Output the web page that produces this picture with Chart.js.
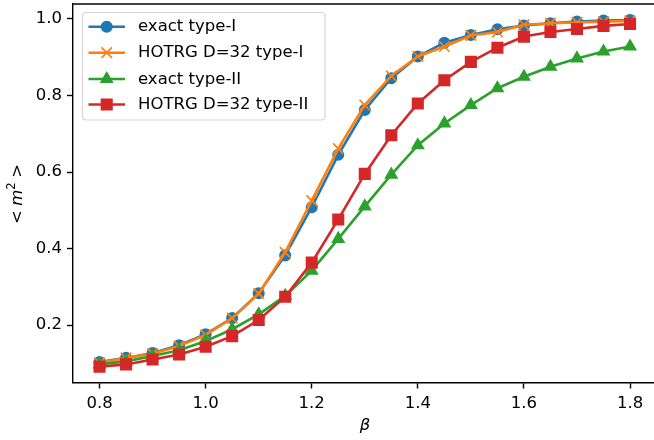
<!DOCTYPE html>
<html>
<head>
<meta charset="utf-8">
<script src="https://cdn.jsdelivr.net/npm/chart.js@4/dist/chart.umd.min.js"></script>
<style>
html,body{margin:0;padding:0;background:#fff;overflow:hidden;}
#c{display:block;}
</style>
</head>
<body>
<canvas id="c" width="654" height="440"></canvas>
<script>
// ---- data ----
const beta = [0.80,0.85,0.90,0.95,1.00,1.05,1.10,1.15,1.20,1.25,1.30,1.35,1.40,1.45,1.50,1.55,1.60,1.65,1.70,1.75,1.80];
const exactTypeI  = [0.103,0.114,0.127,0.147,0.176,0.218,0.283,0.382,0.508,0.645,0.762,0.845,0.902,0.938,0.958,0.973,0.983,0.989,0.993,0.996,0.997];
const hotrgTypeI  = [0.101,0.114,0.125,0.145,0.174,0.218,0.282,0.390,0.525,0.661,0.775,0.851,0.902,0.928,0.957,0.966,0.985,0.989,0.991,0.993,0.995];
const exactTypeII = [0.097,0.105,0.119,0.134,0.158,0.189,0.228,0.276,0.342,0.425,0.510,0.593,0.670,0.727,0.775,0.819,0.849,0.875,0.897,0.915,0.928];
const hotrgTypeII = [0.091,0.097,0.110,0.123,0.143,0.171,0.213,0.274,0.363,0.476,0.595,0.696,0.779,0.840,0.888,0.925,0.954,0.966,0.974,0.982,0.987];
const seriesLabels = ['exact type-I','HOTRG D=32 type-I','exact type-II','HOTRG D=32 type-II'];
const xTicks = [0.8,1.0,1.2,1.4,1.6,1.8];
const yTicks = [0.2,0.4,0.6,0.8,1.0];
const xTitle = 'β';
const yTitleParts = ['<', 'm', '2', '>'];

const FONT = "'DejaVu Sans', sans-serif";
const FS = 16.5;
const colors = ['#1f77b4','#ff7f0e','#2ca02c','#d62728'];

function pts(ys){ return beta.map((b,i)=>({x:b, y:ys[i]})); }

function ds(label, ys, color, style, radius, order){
  return {
    label, data: pts(ys), borderColor: color, backgroundColor: color,
    pointBackgroundColor: color, pointBorderColor: color,
    borderWidth: 2.6, pointStyle: style, pointRadius: radius, pointHoverRadius: radius,
    pointBorderWidth: 1.7, tension: 0, fill: false, order
  };
}

const datasets = [
  ds(seriesLabels[0], exactTypeI,  colors[0], 'circle',   5.2, 3),
  ds(seriesLabels[1], hotrgTypeI,  colors[1], 'crossRot', 7.4, 2),
  ds(seriesLabels[2], exactTypeII, colors[2], 'triangle', 6.4, 1),
  ds(seriesLabels[3], hotrgTypeII, colors[3], 'rect',     7.35, 0)
];

function noPad(s){ s.paddingLeft = 0; s.paddingRight = 0; s.paddingTop = 0; s.paddingBottom = 0; }

const framePlugin = {
  id: 'frame',
  afterDraw(chart){
    const ctx = chart.ctx, a = chart.chartArea;
    ctx.save();
    ctx.strokeStyle = '#000'; ctx.lineWidth = 1.4;
    ctx.beginPath();
    ctx.moveTo(a.left - 0.7, a.top); ctx.lineTo(chart.width, a.top);
    ctx.stroke();

    // legend
    const bx = 82.5, by = 12.5, bw = 242.5, bh = 107.5, r = 4;
    ctx.beginPath();
    ctx.moveTo(bx + r, by);
    ctx.lineTo(bx + bw - r, by); ctx.quadraticCurveTo(bx + bw, by, bx + bw, by + r);
    ctx.lineTo(bx + bw, by + bh - r); ctx.quadraticCurveTo(bx + bw, by + bh, bx + bw - r, by + bh);
    ctx.lineTo(bx + r, by + bh); ctx.quadraticCurveTo(bx, by + bh, bx, by + bh - r);
    ctx.lineTo(bx, by + r); ctx.quadraticCurveTo(bx, by, bx + r, by);
    ctx.closePath();
    ctx.fillStyle = 'rgba(255,255,255,0.8)'; ctx.fill();
    ctx.strokeStyle = 'rgba(204,204,204,0.8)'; ctx.lineWidth = 1.2; ctx.stroke();

    const rows = [26.7, 52.7, 79, 104.5];
    chart.data.datasets.forEach((d, i) => {
      const y = rows[i];
      ctx.strokeStyle = d.borderColor; ctx.lineWidth = d.borderWidth;
      ctx.beginPath(); ctx.moveTo(88.5, y); ctx.lineTo(125, y); ctx.stroke();
      ctx.fillStyle = d.backgroundColor; ctx.strokeStyle = d.borderColor; ctx.lineWidth = d.pointBorderWidth;
      Chart.helpers.drawPoint(ctx, {pointStyle: d.pointStyle, radius: d.pointRadius, rotation: 0, borderWidth: d.pointBorderWidth}, 106.7, y);
      ctx.fillStyle = '#000';
      ctx.font = FS + 'px ' + FONT;
      ctx.textBaseline = 'middle'; ctx.textAlign = 'left';
      ctx.fillText(d.label, 138, y + 0.5);
    });

    // x title
    ctx.fillStyle = '#000';
    ctx.font = 'oblique ' + FS + 'px ' + FONT;
    ctx.textAlign = 'center'; ctx.textBaseline = 'middle';
    ctx.fillText(xTitle, 365, 426);

    // y title: < m^2 >
    ctx.save();
    ctx.translate(16, 194);
    ctx.rotate(-Math.PI / 2);
    const up = FS + 'px ' + FONT, it = 'oblique ' + FS + 'px ' + FONT, sup = (FS * 0.7) + 'px ' + FONT;
    const gap = 4.5;
    ctx.font = up; const wl = ctx.measureText(yTitleParts[0]).width, wr = ctx.measureText(yTitleParts[3]).width;
    ctx.font = it; const wm = ctx.measureText(yTitleParts[1]).width;
    ctx.font = sup; const ws = ctx.measureText(yTitleParts[2]).width;
    const total = wl + gap + wm + ws + gap + wr;
    let x = -total / 2;
    ctx.textAlign = 'left'; ctx.textBaseline = 'alphabetic';
    const base = 6;
    ctx.font = up; ctx.fillText(yTitleParts[0], x, base); x += wl + gap;
    ctx.font = it; ctx.fillText(yTitleParts[1], x, base); x += wm;
    ctx.font = sup; ctx.fillText(yTitleParts[2], x, base - 7); x += ws + gap;
    ctx.font = up; ctx.fillText(yTitleParts[3], x, base);
    ctx.restore();
    ctx.restore();
  }
};

new Chart(document.getElementById('c'), {
  type: 'line',
  data: { datasets },
  options: {
    responsive: false,
    animation: false,
    devicePixelRatio: 1,
    layout: { autoPadding: false, padding: { top: 4, right: 0, left: 0, bottom: 0 } },
    plugins: { legend: { display: false }, tooltip: { enabled: false } },
    scales: {
      x: {
        type: 'linear', position: 'bottom', min: 0.75, max: 1.8452,
        afterBuildTicks: s => { s.ticks = xTicks.map(v => ({ value: v })); },
        afterFit: s => { s.height = 57.5; noPad(s); },
        grid: { display: true, drawOnChartArea: false, drawTicks: true, tickLength: 6, tickWidth: 1.4, tickColor: '#000' },
        border: { display: true, color: '#000', width: 1.4 },
        ticks: { color: '#000', font: { family: FONT, size: FS }, padding: 5, maxRotation: 0, autoSkip: false,
                 callback: v => v.toFixed(1) }
      },
      y: {
        type: 'linear', min: 0.0497, max: 1.0392,
        afterBuildTicks: s => { s.ticks = yTicks.map(v => ({ value: v })); },
        afterFit: s => { s.width = 73; noPad(s); },
        grid: { display: true, drawOnChartArea: false, drawTicks: true, tickLength: 6, tickWidth: 1.4, tickColor: '#000' },
        border: { display: true, color: '#000', width: 1.4 },
        ticks: { color: '#000', font: { family: FONT, size: FS }, padding: 5, autoSkip: false,
                 callback: v => v.toFixed(1) }
      }
    }
  },
  plugins: [framePlugin]
});
</script>
</body>
</html>
